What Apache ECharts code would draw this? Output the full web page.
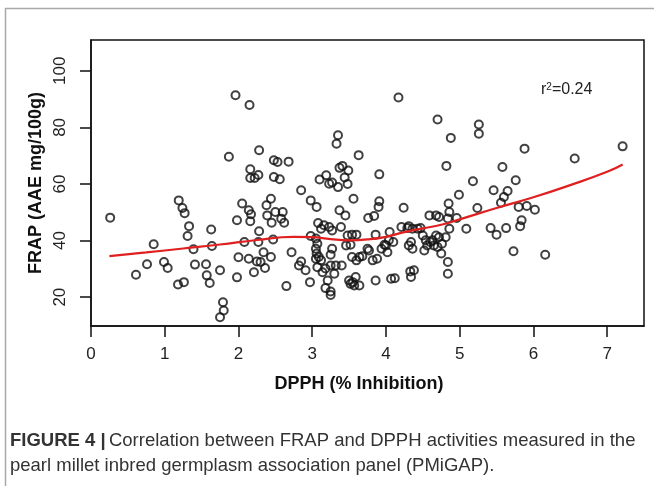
<!DOCTYPE html>
<html>
<head>
<meta charset="utf-8">
<script src="https://cdn.jsdelivr.net/npm/echarts@6/dist/echarts.min.js"></script>
<style>
  html, body { margin: 0; padding: 0; background: #fff; }
  #chart { width: 654px; height: 486px; }
</style>
</head>
<body>
<div id="chart"></div>
<script>
// DPPH (% inhibition) per accession
var dpph = [
  0.26, 0.85, 0.76, 0.61, 0.99, 1.04, 1.19, 1.24, 1.27, 1.33, 1.31, 1.39, 1.18, 1.26, 1.41,
  1.56, 1.57, 1.61, 1.63, 1.64, 1.75, 1.79, 1.80, 1.75, 1.98, 2.00, 1.98, 2.05, 2.08, 2.14,
  2.14, 2.16, 2.21, 2.28, 2.27, 2.25, 2.30, 2.34, 2.36, 2.38, 2.39, 2.44, 2.44, 2.45, 2.17,
  1.96, 2.15, 1.87, 2.28, 2.48, 2.16, 2.16, 2.22, 2.27, 2.48,
  4.17, 4.70, 4.88, 4.82, 3.35, 3.33, 3.63, 3.91, 2.53, 2.68, 2.56, 3.19, 3.10, 3.23, 3.27,
  3.37, 3.41, 3.49, 3.44, 3.48, 3.35, 2.85,
  5.26, 5.26, 5.88, 6.56, 7.21, 5.58, 5.18, 5.76, 5.46, 5.65,
  2.50, 2.60, 2.62, 2.58, 2.47, 2.98, 3.06, 2.72, 2.65, 2.85, 2.82, 2.91, 2.97, 3.08, 3.12,
  3.16, 3.23, 3.27, 2.98, 3.05, 3.07, 3.05, 3.06, 3.09, 3.05, 3.12, 3.07, 3.14, 3.18, 3.18,
  3.25, 3.25, 3.21, 3.25, 3.27, 3.25, 3.30, 3.32, 3.40, 3.39, 3.37, 3.45, 3.56, 3.48, 3.54,
  3.60, 3.46, 3.52, 3.54, 3.60, 3.64, 3.68, 3.50, 3.55, 3.59, 3.52, 3.57, 3.64, 3.75, 3.77,
  3.76, 3.84, 3.91, 3.90, 3.86, 3.82, 3.88, 3.94, 3.98, 4.02, 4.00, 3.86, 4.05, 4.04, 4.10,
  4.07, 4.12, 4.24, 4.21, 4.29, 4.31, 4.36, 4.43, 4.47, 4.31, 4.36, 4.34, 4.33, 4.38, 4.34,
  4.50, 4.54, 4.52, 4.56, 4.60, 4.59, 4.63, 4.68, 4.65, 4.72, 4.70, 4.76, 4.75, 4.81, 4.86,
  4.84, 4.72, 4.68, 4.85, 4.86, 4.84, 4.84,
  4.99, 4.96, 5.09, 5.24, 5.56, 5.60, 5.42, 5.50, 5.63, 5.80, 5.91, 6.02, 5.84, 5.82, 5.73,
  6.16
];
// FRAP (AAE mg/100g), same order
var frap = [
  48.1, 38.7, 31.6, 27.9, 32.4, 30.3, 54.2, 51.5, 49.7, 45.1, 41.6, 36.9, 24.5, 25.3, 31.5,
  31.6, 27.7, 25.0, 43.9, 38.1, 29.5, 18.2, 15.3, 12.9, 27.0, 34.1, 47.2, 53.1, 39.5, 33.6,
  50.7, 46.8, 28.8, 43.3, 39.5, 32.6, 32.4, 35.9, 30.3, 52.5, 48.9, 54.8, 34.2, 46.3, 49.3,
  91.4, 87.9, 69.6, 71.9, 68.4, 65.2, 62.1, 62.1, 63.2, 62.5,
  90.6, 82.8, 76.3, 66.4, 77.2, 74.2, 70.2, 63.4, 67.8, 67.9, 61.7, 63.1, 61.6, 60.1, 60.5,
  65.7, 66.4, 64.8, 62.3, 60.0, 58.9, 57.8,
  81.0, 77.8, 72.5, 69.0, 73.3, 66.0, 61.0, 61.3, 57.8, 57.5,
  50.1, 50.1, 46.3, 47.7, 40.4, 54.2, 51.9, 35.9, 23.9, 32.6, 31.2, 29.5, 25.3, 46.2, 44.2,
  45.4, 44.8, 43.6, 41.6, 40.7, 38.9, 37.1, 35.4, 34.2, 33.6, 33.0, 30.6, 28.8, 30.1, 23.2,
  22.0, 20.8, 25.9, 35.0, 37.1, 31.2, 28.3, 31.2, 31.2, 44.8, 50.7, 48.9, 54.8, 41.8, 42.1,
  42.1, 38.3, 38.5, 34.2, 33.0, 34.2, 34.5, 25.9, 25.3, 27.1, 24.7, 24.1, 24.1, 37.1, 36.5,
  48.0, 48.7, 53.9, 51.9, 42.1, 33.0, 33.6, 37.1, 38.5, 35.9, 38.3, 25.9, 43.0, 40.1, 39.5,
  26.5, 26.7, 51.6, 44.8, 44.4, 45.1, 44.2, 44.2, 44.4, 38.3, 37.1, 39.5, 29.1, 29.5, 27.1,
  41.8, 40.1, 36.5, 38.3, 39.5, 48.9, 40.1, 41.8, 38.3, 41.2, 37.7, 38.9, 35.4, 41.2, 44.2,
  47.8, 48.3, 48.9, 53.1, 50.1, 32.4, 28.3,
  56.2, 48.0, 44.2, 51.5, 53.4, 55.4, 44.4, 42.1, 44.4, 51.9, 52.2, 50.9, 47.2, 45.1, 36.2,
  35.0
];

// smoothed trend (red curve)
var fitX = [0.25, 0.75, 1.25, 1.75, 2.25, 2.75, 3.0, 3.25, 3.5, 3.75, 4.0, 4.25, 4.5, 4.75, 5.0, 5.5, 6.0, 6.5, 7.0, 7.21];
var fitY = [34.5, 35.8, 37.2, 38.6, 40.2, 41.3, 41.2, 40.5, 40.1, 40.4, 41.3, 43.0, 44.3, 45.6, 47.5, 51.5, 55.3, 59.6, 64.3, 66.9];

var xTicks = [0, 1, 2, 3, 4, 5, 6, 7];
var yTicks = [20, 40, 60, 80, 100];

var points = dpph.map(function (d, i) { return [d, frap[i]]; });
var curve = fitX.map(function (d, i) { return [d, fitY[i]]; });

var chart = echarts.init(document.getElementById('chart'));
var font = '"Liberation Sans", Arial, sans-serif';

chart.setOption({
  animation: false,
  backgroundColor: '#fff',
  grid: {
    left: 91, right: 10, top: 40, bottom: 160,
    show: true, borderColor: '#111', borderWidth: 1.5
  },
  xAxis: {
    type: 'value', min: 0, max: 7.5,
    splitLine: { show: false },
    axisLine: { show: true, lineStyle: { color: '#111', width: 1.5 } },
    axisTick: { show: true, length: 11, customValues: xTicks, lineStyle: { color: '#111', width: 1.5 } },
    axisLabel: { customValues: xTicks, fontSize: 17, color: '#222', margin: 20, fontFamily: font }
  },
  yAxis: {
    type: 'value', min: 9.8, max: 110.9,
    splitLine: { show: false },
    axisLine: { show: true, lineStyle: { color: '#111', width: 1.5 } },
    axisTick: { show: true, length: 11, customValues: yTicks, lineStyle: { color: '#111', width: 1.5 } },
    axisLabel: { customValues: yTicks, rotate: 90, fontSize: 17, color: '#222', margin: 22, fontFamily: font }
  },
  series: [
    {
      type: 'scatter',
      data: points,
      symbol: 'circle',
      symbolSize: 8,
      silent: true,
      itemStyle: { color: 'rgba(0,0,0,0)', borderColor: '#111', borderWidth: 2 }
    },
    {
      type: 'line',
      data: curve,
      smooth: true,
      showSymbol: false,
      silent: true,
      lineStyle: { color: '#e02020', width: 2.2 },
      z: 3
    }
  ],
  graphic: [
    {
      type: 'rect', silent: true,
      shape: { x: 5.5, y: 8.5, width: 700, height: 600 },
      style: { fill: 'none', stroke: '#a8a8a8', lineWidth: 1.5 }
    },
    {
      type: 'text', left: 541, top: 82, silent: true,
      style: {
        text: '{a|r}{s|2}{a|=0.24}',
        rich: {
          a: { fontSize: 16, fontFamily: font, fill: '#222' },
          s: { fontSize: 10, fontFamily: font, fill: '#222', verticalAlign: 'top' }
        }
      }
    },
    {
      type: 'text', x: 359, y: 384, silent: true,
      style: {
        text: 'DPPH (% Inhibition)', fontSize: 18, fontWeight: 'bold', fontFamily: font,
        fill: '#111', align: 'center', verticalAlign: 'middle'
      }
    },
    {
      type: 'text', x: 36, y: 183, rotation: Math.PI / 2, silent: true,
      style: {
        text: 'FRAP (AAE mg/100g)', fontSize: 18, fontWeight: 'bold', fontFamily: font,
        fill: '#111', align: 'center', verticalAlign: 'middle'
      }
    },
    {
      type: 'text', x: 10, y: 441, silent: true,
      style: {
        text: '{b|FIGURE 4 |} {r|Correlation between FRAP and DPPH activities measured in the}',
        verticalAlign: 'middle',
        rich: {
          b: { fontSize: 18.5, fontWeight: 'bold', fontFamily: font, fill: '#333' },
          r: { fontSize: 18.5, fontFamily: font, fill: '#333' }
        }
      }
    },
    {
      type: 'text', x: 10, y: 466, silent: true,
      style: {
        text: 'pearl millet inbred germplasm association panel (PMiGAP).',
        fontSize: 18.5, fontFamily: font, fill: '#333', verticalAlign: 'middle'
      }
    }
  ]
});
</script>
</body>
</html>
